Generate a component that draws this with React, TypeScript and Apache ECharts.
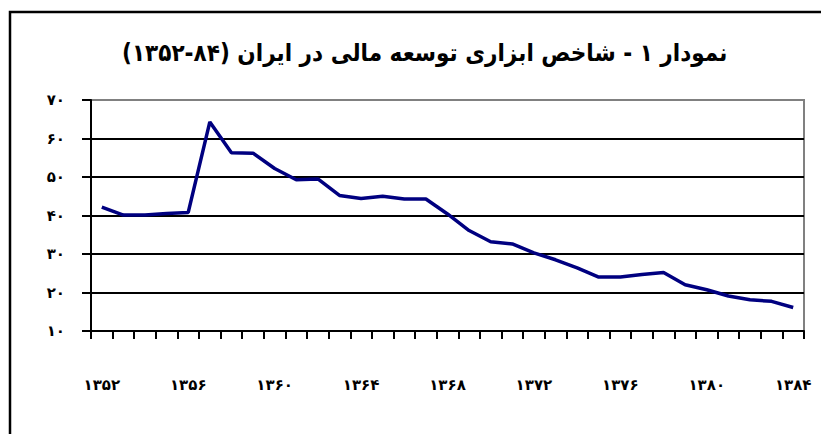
import React, { useEffect, useRef } from "react";
import * as echarts from "echarts";

// Logical order chosen so that, in the SVG's left-to-right paragraph, the years read (۱۳۵۲-۸۴) as in the reference
const titleText = "نمودار ۱ - شاخص ابزاری توسعه مالی در ایران (۸۴-۱۳۵۲)";

const years = [
  "۱۳۵۲", "۱۳۵۳", "۱۳۵۴", "۱۳۵۵", "۱۳۵۶", "۱۳۵۷", "۱۳۵۸", "۱۳۵۹", "۱۳۶۰", "۱۳۶۱", "۱۳۶۲",
  "۱۳۶۳", "۱۳۶۴", "۱۳۶۵", "۱۳۶۶", "۱۳۶۷", "۱۳۶۸", "۱۳۶۹", "۱۳۷۰", "۱۳۷۱", "۱۳۷۲", "۱۳۷۳",
  "۱۳۷۴", "۱۳۷۵", "۱۳۷۶", "۱۳۷۷", "۱۳۷۸", "۱۳۷۹", "۱۳۸۰", "۱۳۸۱", "۱۳۸۲", "۱۳۸۳", "۱۳۸۴",
];

const indexValues = [
  42.2, 40.1, 40.1, 40.5, 40.8, 64.3, 56.3, 56.2, 52.2, 49.3, 49.5,
  45.2, 44.4, 45.0, 44.3, 44.3, 40.4, 36.1, 33.2, 32.6, 30.3, 28.5,
  26.4, 24.0, 24.0, 24.7, 25.2, 22.0, 20.7, 19.1, 18.1, 17.7, 16.1,
];

const yTickLabels: Record<number, string> = {
  10: "۱۰", 20: "۲۰", 30: "۳۰", 40: "۴۰", 50: "۵۰", 60: "۶۰", 70: "۷۰",
};

const FONT = "DejaVu Sans";
const TITLE_FONT = "DejaVu Sans Condensed";

export default function App() {
  const ref = useRef<HTMLDivElement>(null);
  useEffect(() => {
    if (!ref.current) return;
    const chart = echarts.init(ref.current, undefined, { renderer: "svg" });
    chart.setOption({
      animation: false,
      backgroundColor: "#ffffff",
      title: {
        text: titleText,
        left: 117,
        top: 36,
        padding: 5,
        textStyle: { fontFamily: TITLE_FONT, fontSize: 24, fontWeight: "bold", color: "#000" },
      },
      graphic: [
        {
          type: "rect",
          shape: { x: 10, y: 12, width: 900, height: 500 },
          style: { fill: "none", stroke: "#000", lineWidth: 2.5 },
          silent: true,
        },
      ],
      grid: {
        left: 91,
        right: 17,
        top: 100,
        bottom: 103,
        show: true,
        borderColor: "#808080",
        borderWidth: 2,
      },
      xAxis: {
        type: "category",
        data: years,
        boundaryGap: true,
        axisLine: { show: true, lineStyle: { color: "#000", width: 2 } },
        axisTick: { show: true, interval: 0, length: 8, lineStyle: { color: "#000", width: 2 } },
        axisLabel: {
          interval: 3,
          margin: 46,
          fontFamily: FONT,
          fontSize: 15,
          fontWeight: "bold",
          color: "#000",
        },
        splitLine: { show: false },
      },
      yAxis: {
        type: "value",
        min: 10,
        max: 70,
        interval: 10,
        axisLine: { show: true, lineStyle: { color: "#000", width: 2 } },
        axisTick: { show: true, length: 9, lineStyle: { color: "#000", width: 2 } },
        axisLabel: {
          margin: 26,
          fontFamily: FONT,
          fontSize: 15,
          fontWeight: "bold",
          color: "#000",
          formatter: (v: number) => yTickLabels[v] ?? String(v),
        },
        splitLine: {
          show: true,
          lineStyle: {
            color: ["#000", "#000", "#000", "#000", "#000", "#000", "#808080"],
            width: 2,
          },
        },
      },
      series: [
        {
          type: "line",
          data: indexValues,
          showSymbol: false,
          symbol: "none",
          smooth: false,
          lineStyle: { color: "#000080", width: 3.5 },
        },
      ],
    });
    return () => chart.dispose();
  }, []);
  return (
    <div
      ref={ref}
      style={{ position: "fixed", left: 0, top: 0, width: 821, height: 434 }}
    />
  );
}
